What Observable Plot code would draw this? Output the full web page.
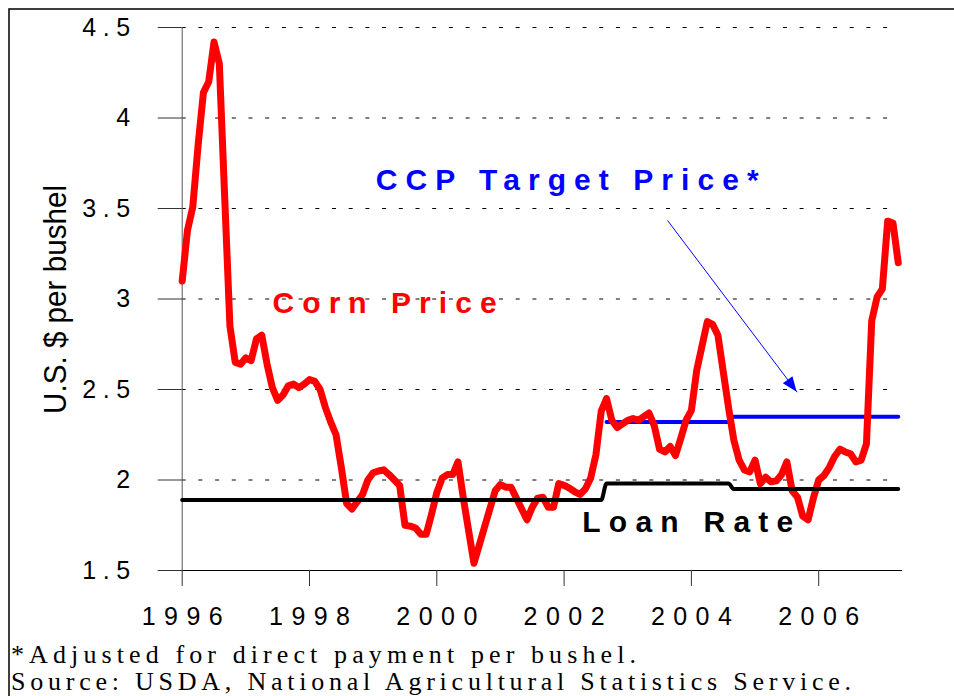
<!DOCTYPE html>
<html>
<head>
<meta charset="utf-8">
<script src="https://cdn.jsdelivr.net/npm/d3@7"></script>
<script src="https://cdn.jsdelivr.net/npm/@observablehq/plot@0.6"></script>
<style>
  html, body { margin: 0; padding: 0; background: #fff; }
  svg { display: block; }
</style>
</head>
<body>
<div id="chart"></div>
<script>
// ---------- data ----------
const startYear = 1996;            // first monthly observation: January 1996
// Corn price received by farmers, $/bushel, monthly Jan 1996 - Apr 2007
const cornPrice = [
  3.10, 3.38, 3.51, 3.85, 4.14, 4.20, 4.42, 4.30, 3.57, 2.85, 2.65, 2.64,   // 1996
  2.675, 2.66, 2.78, 2.80, 2.64, 2.51, 2.44, 2.47, 2.52, 2.53, 2.51, 2.53, // 1997
  2.555, 2.545, 2.50, 2.40, 2.32, 2.25, 2.07, 1.87, 1.84, 1.88, 1.92, 2.00, // 1998
  2.04, 2.05, 2.056, 2.03, 2.00, 1.97, 1.75, 1.745, 1.735, 1.70, 1.70, 1.81, // 1999
  1.93, 2.01, 2.03, 2.03, 2.10, 1.90, 1.72, 1.54, 1.64, 1.74, 1.84, 1.94,  // 2000
  1.975, 1.96, 1.96, 1.90, 1.84, 1.78, 1.85, 1.90, 1.905, 1.85, 1.85, 1.98, // 2001
  1.97, 1.955, 1.935, 1.92, 1.95, 2.01, 2.14, 2.38, 2.45, 2.33, 2.29, 2.31, // 2002
  2.33, 2.34, 2.33, 2.35, 2.37, 2.30, 2.17, 2.155, 2.185, 2.135, 2.23, 2.33, // 2003
  2.385, 2.605, 2.74, 2.875, 2.86, 2.80, 2.60, 2.40, 2.22, 2.11, 2.055, 2.045, // 2004
  2.11, 1.98, 2.015, 1.99, 1.995, 2.03, 2.10, 1.94, 1.905, 1.80, 1.78, 1.90, // 2005
  2.00, 2.025, 2.07, 2.13, 2.17, 2.155, 2.145, 2.10, 2.11, 2.20, 2.88, 3.01, // 2006
  3.056, 3.43, 3.42, 3.20                                                     // 2007
];
// Loan rate periods
const loanStart = ["1996-01", "2002-09", "2004-09"];
const loanEnd   = ["2002-08", "2004-08", "2007-04"];
const loanRate  = [1.89, 1.98, 1.95];
// CCP target price (adjusted for direct payment) periods
const targetStart = ["2002-09", "2004-09"];
const targetEnd   = ["2004-08", "2007-04"];
const targetPrice = [2.32, 2.35];
// Axis ticks
const xTicks = [1996, 1998, 2000, 2002, 2004, 2006];
const yTicks = [1.5, 2, 2.5, 3, 3.5, 4, 4.5];
const gridValues = [2, 2.5, 3, 3.5, 4, 4.5];
// Text
const yTitle = "U.S. $ per bushel";
const labelCorn = "Corn Price";
const labelTarget = "CCP Target Price*";
const labelLoan = "Loan Rate";
const footnote1 = "*Adjusted for direct payment per bushel.";
const footnote2 = "Source: USDA, National Agricultural Statistics Service.";

// ---------- helpers ----------
const ym = s => { const [y, m] = s.split("-").map(Number); return y + (m - 1) / 12; };
const cornData = cornPrice.map((v, i) => ({ x: startYear + i / 12, y: v }));
const steps = (starts, ends, vals) => starts.flatMap((s, i) => [
  { x: ym(s), y: vals[i] }, { x: ym(ends[i]), y: vals[i] }
]);
const loanData = steps(loanStart, loanEnd, loanRate);
const targetData = steps(targetStart, targetEnd, targetPrice);
const arrowLink = [{ x1: 2003.625, y1: 3.434, x2: 2005.662, y2: 2.485 }];

const W = 954, H = 696;
const sans = "'Liberation Sans', Arial, Helvetica, sans-serif";
const serif = "'Liberation Serif', 'Times New Roman', Times, serif";

const chart = Plot.plot({
  width: W,
  height: H,
  marginLeft: 181.7,
  marginRight: 8.5,
  marginTop: 27,
  marginBottom: 126,
  style: { fontFamily: sans, color: "#000", background: "#fff", overflow: "visible" },
  x: { type: "linear", domain: [1996, 2008] },
  y: { type: "linear", domain: [1.5, 4.5] },
  marks: [
    Plot.ruleY(gridValues, { x1: 1996, x2: 2007.13, stroke: "#000", strokeWidth: 1, strokeDasharray: "4,12.7" }),
    Plot.ruleX([1996], { y1: 1.5, y2: 4.5, stroke: "#555", strokeWidth: 1 }),
    Plot.ruleY([1.5], { x1: 1995.643, x2: 2007.317, stroke: "#000", strokeWidth: 1.2 }),
    Plot.axisX({ ticks: xTicks, tickFormat: d => String(d), tickSize: 16, tickPadding: 21,
                 fontSize: 25, label: null, stroke: "#333" }),
    Plot.axisY({ ticks: yTicks, tickFormat: d => String(d), tickSize: 24, tickPadding: 28,
                 fontSize: 25, label: null, stroke: "#333" }),
    Plot.line(targetData, { x: "x", y: "y", stroke: "#0000ff", strokeWidth: 4, curve: "monotone-x" }),
    Plot.line(cornData, { x: "x", y: "y", stroke: "#ff0000", strokeWidth: 7, strokeLinejoin: "round" }),
    Plot.line(loanData, { x: "x", y: "y", stroke: "#000", strokeWidth: 4, curve: "monotone-x" }),
    Plot.link(arrowLink, { x1: "x1", y1: "y1", x2: "x2", y2: "y2", stroke: "#0000ff", strokeWidth: 1 }),
    Plot.text([labelTarget], { x: 1999.04, y: 3.655, text: d => d, fill: "#0000ff", fontSize: 30,
               fontWeight: "bold", textAnchor: "start", lineAnchor: "middle" }),
    Plot.text([labelCorn], { x: 1997.42, y: 2.975, text: d => d, fill: "#ff0000", fontSize: 30,
               fontWeight: "bold", textAnchor: "start", lineAnchor: "middle" }),
    Plot.text([labelLoan], { x: 2002.285, y: 1.765, text: d => d, fill: "#000", fontSize: 30,
               fontWeight: "bold", textAnchor: "start", lineAnchor: "middle" })
  ]
});

document.getElementById("chart").appendChild(chart);

// ---------- post-processing for typography ----------
const svg = d3.select(chart);
const widths = { [labelTarget]: 383, [labelCorn]: 224, [labelLoan]: 211 };
svg.selectAll("text").each(function () {
  const t = this.textContent;
  if (widths[t]) {
    this.setAttribute("textLength", widths[t]);
    this.setAttribute("lengthAdjust", "spacing");
  }
});
svg.selectAll('g[aria-label="x-axis tick label"] text')
  .attr("textLength", 81).attr("lengthAdjust", "spacing");
svg.selectAll('g[aria-label="y-axis tick label"] text').each(function () {
  if (this.textContent.includes(".")) {
    this.setAttribute("textLength", 48);
    this.setAttribute("lengthAdjust", "spacing");
  }
});

// arrowhead for the CCP annotation (positions from Plot's own scales)
const sx = chart.scale("x"), sy = chart.scale("y");
const a = arrowLink[0];
const px1 = sx.apply(a.x1), py1 = sy.apply(a.y1), px2 = sx.apply(a.x2), py2 = sy.apply(a.y2);
const ang = Math.atan2(py2 - py1, px2 - px1);
const hl = 15, hw = 6;
const bx = px2 - hl * Math.cos(ang), by = py2 - hl * Math.sin(ang);
svg.append("polygon")
  .attr("points", [
    [px2, py2],
    [bx - hw * Math.sin(ang), by + hw * Math.cos(ang)],
    [bx + hw * Math.sin(ang), by - hw * Math.cos(ang)]
  ].map(p => p.join(",")).join(" "))
  .attr("fill", "#0000ff");

// y-axis title
svg.append("text")
  .attr("transform", `translate(66, ${(sy.apply(1.5) + sy.apply(4.5)) / 2 + 1}) rotate(-90)`)
  .attr("text-anchor", "middle")
  .attr("font-family", sans)
  .attr("font-size", 32)
  .attr("textLength", 229)
  .attr("lengthAdjust", "spacingAndGlyphs")
  .attr("fill", "#000")
  .text(yTitle);

// footnotes
svg.append("text")
  .attr("x", 11).attr("y", 663)
  .attr("text-anchor", "start")
  .attr("font-family", serif).attr("font-size", 26)
  .attr("textLength", 625).attr("lengthAdjust", "spacing")
  .attr("fill", "#000")
  .text(footnote1);
svg.append("text")
  .attr("x", 11).attr("y", 690)
  .attr("text-anchor", "start")
  .attr("font-family", serif).attr("font-size", 26)
  .attr("textLength", 840).attr("lengthAdjust", "spacing")
  .attr("fill", "#000")
  .text(footnote2);

// slide frame (top and left edges)
svg.append("path")
  .attr("d", `M9,${H} L9,9 L${W},9`)
  .attr("fill", "none").attr("stroke", "#000").attr("stroke-width", 1.5);
</script>
</body>
</html>
